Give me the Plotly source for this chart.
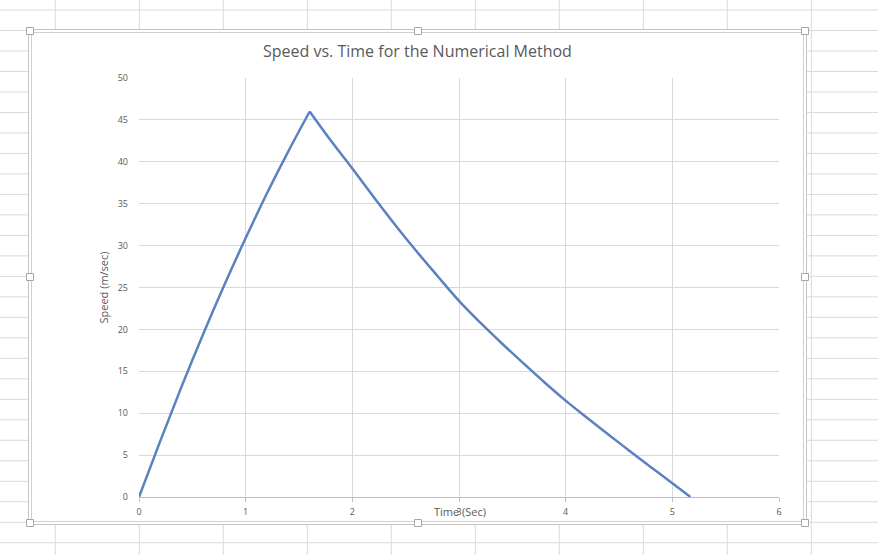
import plotly.graph_objects as go

# ---- data ----
# rising part (until the peak) and falling part (from the peak)
time_up = [0.0, 0.2, 0.4, 0.6, 0.8, 1.0, 1.2, 1.4, 1.6]
speed_up = [0.0, 6.7, 13.2, 19.4, 25.3, 30.9, 36.25, 41.25, 46.0]
time_down = [1.6, 1.8, 2.0, 2.2, 2.4, 2.6, 2.8, 3.0, 3.2, 3.4,
             3.6, 3.8, 4.0, 4.2, 4.4, 4.6, 4.8, 5.0, 5.17]
speed_down = [46.0, 42.5, 39.2, 35.8, 32.5, 29.35, 26.35, 23.4, 20.8, 18.35,
              16.0, 13.7, 11.5, 9.45, 7.45, 5.5, 3.55, 1.65, 0.0]
x_ticks = [0, 1, 2, 3, 4, 5, 6]
y_ticks = [0, 5, 10, 15, 20, 25, 30, 35, 40, 45, 50]

title_text = "Speed vs. Time for the Numerical Method"
x_title = "Time (Sec)"
y_title = "Speed (m/sec)"

# ---- layout geometry (pixels) ----
W_FIG, H_FIG = 878, 555
L, R, T, B = 139, 779, 78, 497
PW, PH = R - L, B - T


def xp(px):
    return (px - L) / PW


def yp(py):
    return (B - py) / PH


GRAY_TXT = "#595959"
FONT = "Open Sans"
LINE_BLUE = "#5b81c0"

shapes = []
# spreadsheet cell grid in the background
for k in range(10):
    x = 55.3 + 84 * k
    shapes.append(dict(type="line", xref="paper", yref="paper",
                       x0=xp(x), x1=xp(x), y0=yp(0), y1=yp(H_FIG),
                       line=dict(color="#d9d9d9", width=1), layer="below"))
for k in range(27):
    y = 10 + 20.49 * k
    shapes.append(dict(type="line", xref="paper", yref="paper",
                       x0=xp(0), x1=xp(W_FIG), y0=yp(y), y1=yp(y),
                       line=dict(color="#d9d9d9", width=1), layer="below"))
# chart area (white box with selection frame)
shapes.append(dict(type="rect", xref="paper", yref="paper",
                   x0=xp(28.5), x1=xp(806.5), y0=yp(29.5), y1=yp(524.5),
                   fillcolor="white", line=dict(color="#c4c4c4", width=1),
                   layer="below"))
shapes.append(dict(type="rect", xref="paper", yref="paper",
                   x0=xp(31.5), x1=xp(803.5), y0=yp(32.5), y1=yp(521.5),
                   fillcolor="white", line=dict(color="#d0d0d0", width=1),
                   layer="below"))
# resize handles
for hx, hy in [(30, 31), (418, 31), (805, 31), (30, 277), (805, 277),
               (30, 523), (418, 523), (805, 523)]:
    shapes.append(dict(type="rect", xref="paper", yref="paper",
                       x0=xp(hx - 3.5), x1=xp(hx + 3.5),
                       y0=yp(hy - 3.5), y1=yp(hy + 3.5),
                       fillcolor="white", line=dict(color="#a6a6a6", width=1),
                       layer="above"))

fig = go.Figure()
fig.add_trace(go.Scatter(x=time_up, y=speed_up, mode="lines",
                         line=dict(color=LINE_BLUE, width=2.5,
                                   shape="spline", smoothing=1.0),
                         showlegend=False, hoverinfo="x+y"))
fig.add_trace(go.Scatter(x=time_down, y=speed_down, mode="lines",
                         line=dict(color=LINE_BLUE, width=2.5,
                                   shape="spline", smoothing=1.0),
                         showlegend=False, hoverinfo="x+y"))

fig.update_layout(
    width=W_FIG, height=H_FIG,
    margin=dict(l=L, r=W_FIG - R, t=T, b=H_FIG - B, pad=0),
    paper_bgcolor="white",
    plot_bgcolor="rgba(0,0,0,0)",
    font=dict(family=FONT, color=GRAY_TXT, size=9),
    shapes=shapes,
    annotations=[
        dict(text=title_text, xref="paper", yref="paper",
             x=xp(417), y=yp(51), showarrow=False,
             font=dict(family=FONT, size=16, color=GRAY_TXT),
             xanchor="center", yanchor="middle"),
        dict(text=x_title, xref="paper", yref="paper",
             x=xp(460), y=yp(511), showarrow=False,
             font=dict(family=FONT, size=11, color=GRAY_TXT),
             xanchor="center", yanchor="middle"),
    ],
    xaxis=dict(range=[0, 6], tickvals=x_ticks, showgrid=True,
               gridcolor="#d9d9d9", gridwidth=1, zeroline=False,
               showline=True, linecolor="#bfbfbf", linewidth=1,
               ticks="outside", ticklen=4, tickcolor="#bfbfbf",
               ticklabelstandoff=2,
               tickfont=dict(size=9, color=GRAY_TXT), fixedrange=True),
    yaxis=dict(range=[0, 50], tickvals=y_ticks, showgrid=True,
               gridcolor="#d9d9d9", gridwidth=1, zeroline=False,
               showline=False, ticks="", ticklabelstandoff=10,
               tickfont=dict(size=9, color=GRAY_TXT),
               title=dict(text=y_title, standoff=6,
                          font=dict(size=11, color=GRAY_TXT)),
               fixedrange=True),
)

fig.write_html("out.html",
               config={"displayModeBar": False},
               post_script="document.body.style.margin='0px';"
                           "document.body.style.padding='0px';")
